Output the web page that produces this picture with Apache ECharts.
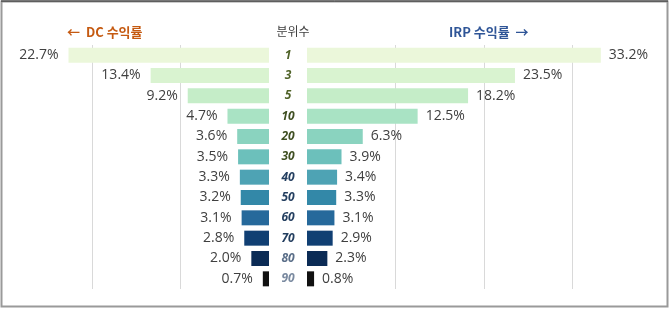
<!DOCTYPE html>
<html><head><meta charset="utf-8">
<script src="https://cdn.jsdelivr.net/npm/echarts@6/dist/echarts.min.js"></script>
<style>html,body{margin:0;padding:0;background:#fff}#c{width:670px;height:309px}</style>
</head><body><div id="c"></div>
<script>
const categories = ['1','3','5','10','20','30','40','50','60','70','80','90'];
const dcValues = [22.7, 13.4, 9.2, 4.7, 3.6, 3.5, 3.3, 3.2, 3.1, 2.8, 2.0, 0.7];
const irpValues = [33.2, 23.5, 18.2, 12.5, 6.3, 3.9, 3.4, 3.3, 3.1, 2.9, 2.3, 0.8];
const barColors = ['#ebf7da','#d9f3d0','#c5edc8','#a9e3c4','#8ad3bf','#6cc0bb','#4ea3b4','#3388a8','#26699b','#103f73','#0b2b55','#111111'];
const catLabelColors = ['#4f6228','#4f6228','#4f6228','#3f4f22','#3f4f22','#3f4f22','#243f60','#243f60','#243f60','#243f60','#5a6e88','#7a8aa0'];

const FONT = '"Noto Sans CJK KR", "Open Sans", sans-serif';
const NUMFONT = '"Open Sans", "Noto Sans", sans-serif';
const chart = echarts.init(document.getElementById('c'), null, {renderer:'canvas'});

const splitLine = {show:true, showMinLine:false, showMaxLine:false, lineStyle:{color:'#d9d9d9', width:1}};

chart.setOption({
  animation:false,
  backgroundColor:'#fff',
  textStyle:{fontFamily:FONT},
  grid:[
    {left:4, width:265, top:45, height:244},
    {left:307, width:354, top:45, height:244}
  ],
  xAxis:[
    {gridIndex:0, type:'value', inverse:true, min:0, max:30, interval:10,
     axisLine:{show:false}, axisTick:{show:false}, axisLabel:{show:false}, splitLine:splitLine},
    {gridIndex:1, type:'value', min:0, max:40, interval:10,
     axisLine:{show:false}, axisTick:{show:false}, axisLabel:{show:false}, splitLine:splitLine}
  ],
  yAxis:[
    {gridIndex:0, type:'category', data:categories, inverse:true,
     axisLine:{show:false}, axisTick:{show:false}, axisLabel:{show:false}},
    {gridIndex:1, type:'category', data:categories, inverse:true, position:'left',
     axisLine:{show:false}, axisTick:{show:false},
     axisLabel:{show:true, align:'center', margin:19, fontSize:12, fontStyle:'italic', fontWeight:'bold',
       fontFamily:NUMFONT,
       color:function(v, i){ return catLabelColors[categories.indexOf(v)]; }}}
  ],
  series:[
    {type:'bar', xAxisIndex:0, yAxisIndex:0, data:dcValues, barWidth:15,
     itemStyle:{color:function(p){return barColors[p.dataIndex];}},
     label:{show:true, position:'left', distance:10, color:'#404040', fontSize:14, fontFamily:NUMFONT,
       formatter:function(p){return p.value.toFixed(1)+'%';}}},
    {type:'bar', xAxisIndex:1, yAxisIndex:1, data:irpValues, barWidth:15,
     itemStyle:{color:function(p){return barColors[p.dataIndex];}},
     label:{show:true, position:'right', distance:8, color:'#404040', fontSize:14, fontFamily:NUMFONT,
       formatter:function(p){return p.value.toFixed(1)+'%';}}}
  ],
  graphic:[
    {type:'rect', shape:{x:1.5, y:1.5, width:666, height:305}, style:{fill:'none', stroke:'#9a9a9a', lineWidth:2}, silent:true},
    {type:'line', shape:{x1:1, y1:1, x2:668, y2:1}, style:{stroke:'#222', lineWidth:1}, silent:true},
    {type:'text', x:67, y:32, style:{text:'←  DC 수익률', fill:'#c55a11', font:'bold 13px '+FONT, textVerticalAlign:'middle'}},
    {type:'text', x:293, y:31, style:{text:'분위수', fill:'#404040', font:'12px '+FONT, textAlign:'center', textVerticalAlign:'middle'}},
    {type:'text', x:449, y:32, style:{text:'IRP 수익률  →', fill:'#2f5597', font:'bold 13px '+FONT, textVerticalAlign:'middle'}}
  ]
});
</script></body></html>
